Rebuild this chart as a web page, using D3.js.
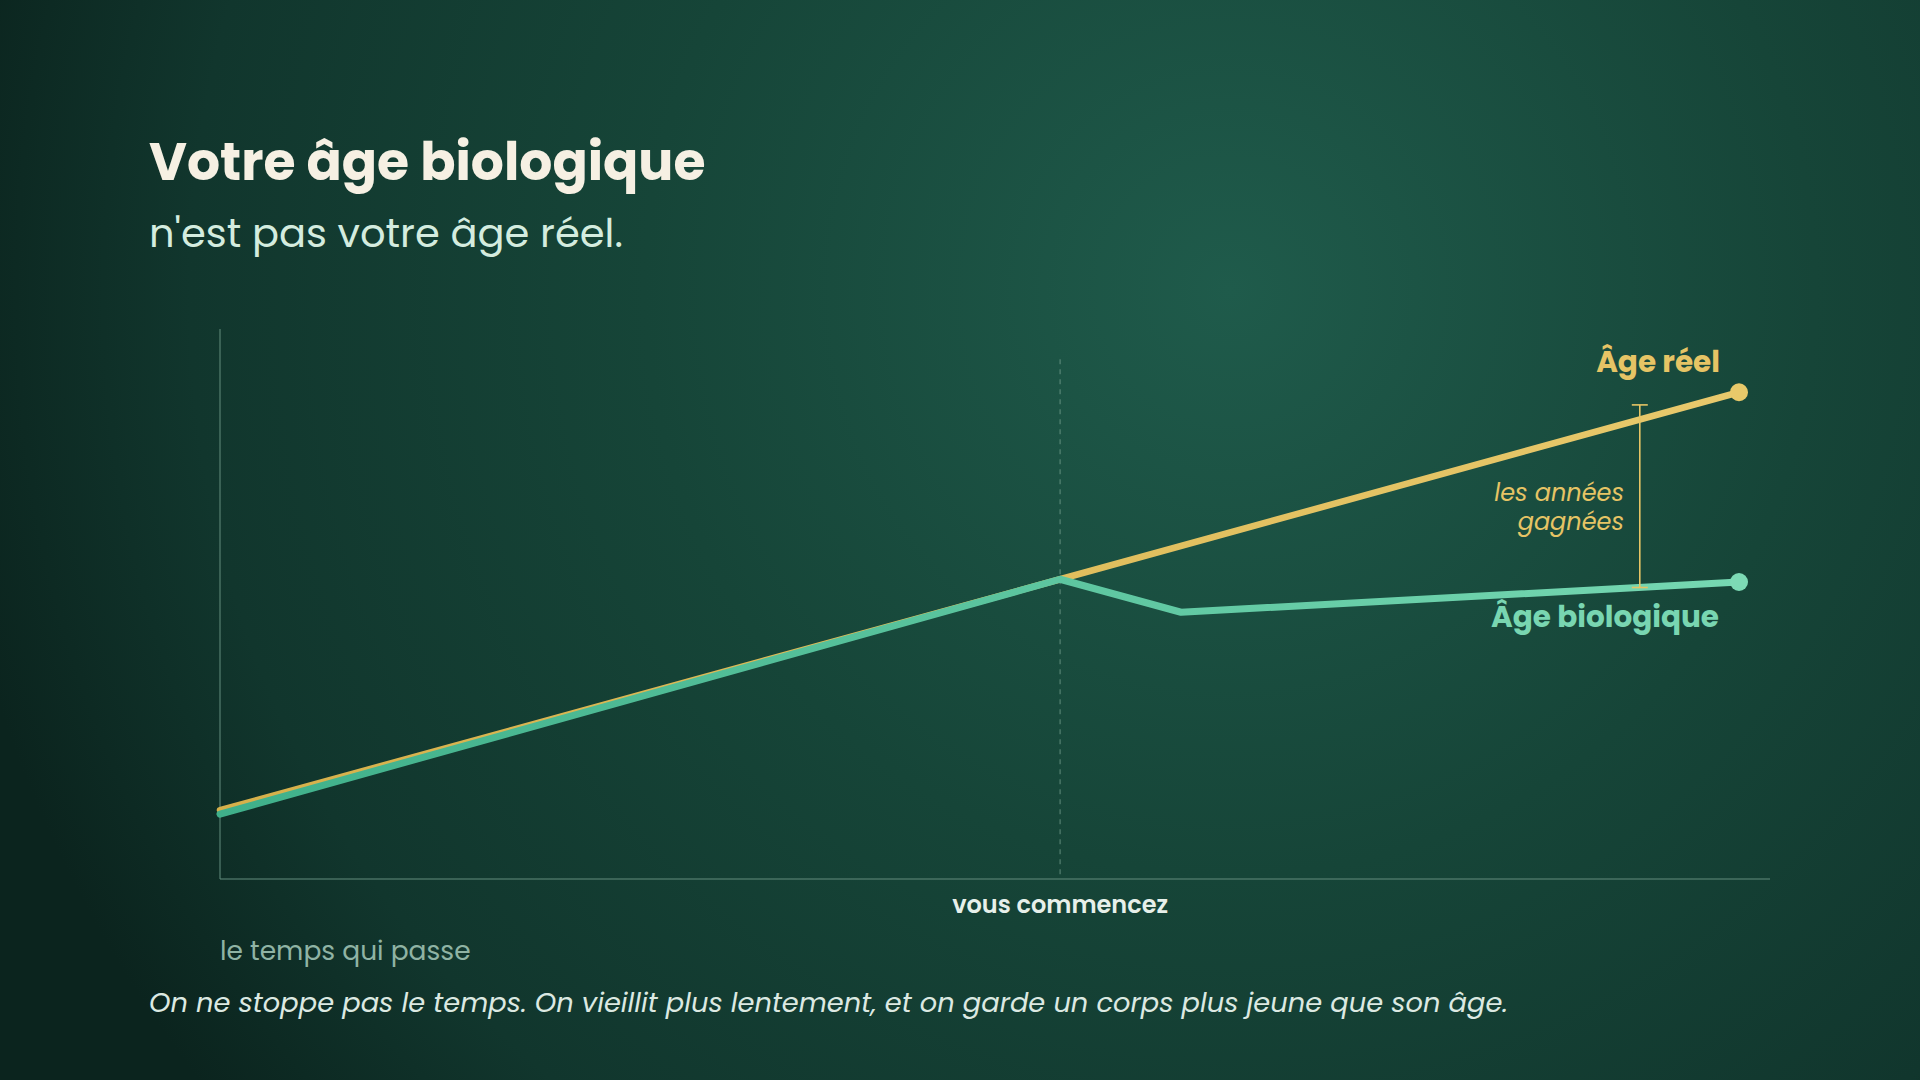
<!DOCTYPE html>
<html>
<head>
<meta charset="utf-8">
<script src="https://cdn.jsdelivr.net/npm/d3@7"></script>
<style>
  html, body { margin: 0; padding: 0; background: #0f2f28; }
  svg { display: block; }
  text { font-family: Poppins, Inter, "Open Sans", sans-serif; }
</style>
</head>
<body>
<div id="chart"></div>
<script>
// data: time (0-100) and age index (0-100)
var timePoints = [0, 54.2, 98];
var realAge = [12.5, 54.5, 88.5];

var bioTime = [0, 54.2, 62, 98];
var bioAge = [11.8, 54.5, 48.5, 54];

var startTime = 54.2;         // "vous commencez"
var gapTime = 91.6;           // bracket "les années gagnées"
var gapAge = [86.2, 53];

var W = 1920, H = 1080;

var svg = d3.select("#chart")
    .append("svg")
    .attr("width", W)
    .attr("height", H);

var defs = svg.append("defs");

// background glow
var bg = defs.append("radialGradient")
    .attr("id", "bg")
    .attr("gradientUnits", "userSpaceOnUse")
    .attr("cx", 1230).attr("cy", 290).attr("r", 1300);
bg.append("stop").attr("offset", "0%").attr("stop-color", "#1f5b4b");
bg.append("stop").attr("offset", "45%").attr("stop-color", "#164538");
bg.append("stop").attr("offset", "80%").attr("stop-color", "#11362d");
bg.append("stop").attr("offset", "100%").attr("stop-color", "#0b241e");

svg.append("rect")
    .attr("width", W)
    .attr("height", H)
    .attr("fill", "url(#bg)");

// line gradients (darker on the left)
var gYellow = defs.append("linearGradient")
    .attr("id", "gYellow")
    .attr("gradientUnits", "userSpaceOnUse")
    .attr("x1", 220).attr("x2", 1740).attr("y1", 0).attr("y2", 0);
gYellow.append("stop").attr("offset", "0%").attr("stop-color", "#d6b04a");
gYellow.append("stop").attr("offset", "100%").attr("stop-color", "#e8c96c");

var gGreen = defs.append("linearGradient")
    .attr("id", "gGreen")
    .attr("gradientUnits", "userSpaceOnUse")
    .attr("x1", 220).attr("x2", 1740).attr("y1", 0).attr("y2", 0);
gGreen.append("stop").attr("offset", "0%").attr("stop-color", "#3fb08a");
gGreen.append("stop").attr("offset", "100%").attr("stop-color", "#76d8b2");

// scales
var x = d3.scaleLinear()
    .domain([0, 100])
    .range([220, 1770]);

var y = d3.scaleLinear()
    .domain([0, 100])
    .range([879, 329]);

// titles
svg.append("text")
    .attr("x", 149)
    .attr("y", 180)
    .attr("fill", "#f6f0e3")
    .style("font-size", "52px")
    .style("font-weight", 700)
    .text("Votre âge biologique");

svg.append("text")
    .attr("x", 149)
    .attr("y", 247)
    .attr("fill", "#d4ecdf")
    .style("font-size", "40px")
    .style("font-weight", 400)
    .text("n'est pas votre âge réel.");

// axes (plain lines, no ticks)
svg.append("line")
    .attr("x1", x(0)).attr("x2", x(0))
    .attr("y1", y(100)).attr("y2", y(0))
    .attr("stroke", "#5f8a7b")
    .attr("stroke-opacity", 0.7)
    .attr("stroke-width", 1.5);

svg.append("line")
    .attr("x1", x(0)).attr("x2", x(100))
    .attr("y1", y(0)).attr("y2", y(0))
    .attr("stroke", "#5f8a7b")
    .attr("stroke-opacity", 0.7)
    .attr("stroke-width", 1.5);

// "vous commencez" marker
svg.append("line")
    .attr("x1", x(startTime)).attr("x2", x(startTime))
    .attr("y1", y(94.5)).attr("y2", y(0))
    .attr("stroke", "#7fa698")
    .attr("stroke-opacity", 0.6)
    .attr("stroke-width", 1.2)
    .attr("stroke-dasharray", "5,5");

svg.append("text")
    .attr("x", x(startTime))
    .attr("y", 913)
    .attr("text-anchor", "middle")
    .attr("fill", "#e7f0ea")
    .style("font-size", "24px")
    .style("font-weight", 600)
    .text("vous commencez");

svg.append("text")
    .attr("x", x(0))
    .attr("y", 960)
    .attr("fill", "#8fb3a4")
    .style("font-size", "26.5px")
    .text("le temps qui passe");

// lines
var line = d3.line()
    .x(function(d) { return x(d[0]); })
    .y(function(d) { return y(d[1]); });

var realData = d3.zip(timePoints, realAge);
var bioData = d3.zip(bioTime, bioAge);

svg.append("path")
    .datum(realData)
    .attr("d", line)
    .attr("fill", "none")
    .attr("stroke", "url(#gYellow)")
    .attr("stroke-width", 6.5)
    .attr("stroke-linejoin", "round")
    .attr("stroke-linecap", "round");

svg.append("path")
    .datum(bioData)
    .attr("d", line)
    .attr("fill", "none")
    .attr("stroke", "url(#gGreen)")
    .attr("stroke-width", 7)
    .attr("stroke-linejoin", "round")
    .attr("stroke-linecap", "round");

// end dots
svg.append("circle")
    .attr("cx", x(timePoints[timePoints.length - 1]))
    .attr("cy", y(realAge[realAge.length - 1]))
    .attr("r", 9)
    .attr("fill", "#e8c96a");

svg.append("circle")
    .attr("cx", x(bioTime[bioTime.length - 1]))
    .attr("cy", y(bioAge[bioAge.length - 1]))
    .attr("r", 9)
    .attr("fill", "#7ddab5");

// bracket
var gx = x(gapTime);
svg.append("line")
    .attr("x1", gx).attr("x2", gx)
    .attr("y1", y(gapAge[0])).attr("y2", y(gapAge[1]))
    .attr("stroke", "#e6c465")
    .attr("stroke-width", 1.6);
gapAge.forEach(function(a) {
    svg.append("line")
        .attr("x1", gx - 8).attr("x2", gx + 8)
        .attr("y1", y(a)).attr("y2", y(a))
        .attr("stroke", "#e6c465")
        .attr("stroke-width", 1.6);
});

svg.append("text")
    .attr("x", 1624)
    .attr("y", 501)
    .attr("text-anchor", "end")
    .attr("fill", "#e6c465")
    .style("font-size", "24px")
    .style("font-style", "italic")
    .text("les années");

svg.append("text")
    .attr("x", 1624)
    .attr("y", 530)
    .attr("text-anchor", "end")
    .attr("fill", "#e6c465")
    .style("font-size", "24px")
    .style("font-style", "italic")
    .text("gagnées");

// series labels
svg.append("text")
    .attr("x", 1720)
    .attr("y", 372)
    .attr("text-anchor", "end")
    .attr("fill", "#e6c465")
    .style("font-size", "29.5px")
    .style("font-weight", 700)
    .text("Âge réel");

svg.append("text")
    .attr("x", 1719)
    .attr("y", 627)
    .attr("text-anchor", "end")
    .attr("fill", "#79d6b1")
    .style("font-size", "29.5px")
    .style("font-weight", 700)
    .text("Âge biologique");

// footer
svg.append("text")
    .attr("x", 149)
    .attr("y", 1012)
    .attr("fill", "#dce9e2")
    .style("font-size", "27.3px")
    .style("font-style", "italic")
    .text("On ne stoppe pas le temps. On vieillit plus lentement, et on garde un corps plus jeune que son âge.");
</script>
</body>
</html>
